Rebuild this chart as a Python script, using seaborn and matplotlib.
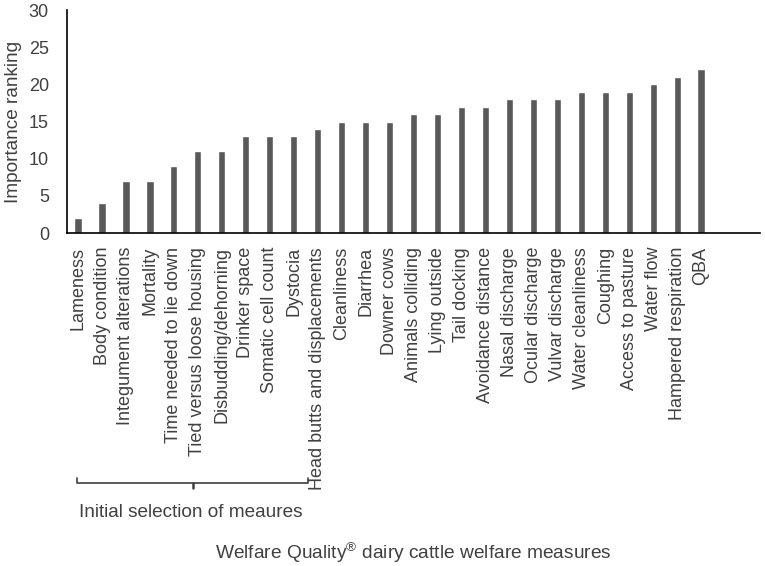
import pandas as pd
import matplotlib
matplotlib.use("Agg")
import matplotlib.pyplot as plt
import matplotlib.transforms as mtransforms
import seaborn as sns

# Datos
medidas = ["Lameness", "Body condition", "Integument alterations", "Mortality",
           "Time needed to lie down", "Tied versus loose housing",
           "Disbudding/dehorning", "Drinker space", "Somatic cell count",
           "Dystocia", "Head butts and displacements", "Cleanliness",
           "Diarrhea", "Downer cows", "Animals colliding", "Lying outside",
           "Tail docking", "Avoidance distance", "Nasal discharge",
           "Ocular discharge", "Vulvar discharge", "Water cleanliness",
           "Coughing", "Access to pasture", "Water flow",
           "Hampered respiration", "QBA"]
ranking = [2, 4, 7, 7, 9, 11, 11, 13, 13, 13, 14, 15, 15, 15, 16, 16,
           17, 17, 18, 18, 18, 19, 19, 19, 20, 21, 22]
y_ticks = [0, 5, 10, 15, 20, 25, 30]

df = pd.DataFrame({"medida": medidas, "ranking": ranking})

sns.set_style("white")
plt.rcParams["font.family"] = ["Liberation Sans", "DejaVu Sans"]
plt.rcParams["mathtext.fontset"] = "custom"
plt.rcParams["mathtext.rm"] = "Liberation Sans"
texto = "#404040"

fig, ax = plt.subplots(figsize=(7.65, 5.66), dpi=100)
fig.subplots_adjust(left=0.0876, right=0.9935, bottom=0.5883, top=0.9823)

sns.barplot(data=df, x="medida", y="ranking", color="#595959",
            width=0.3, saturation=1, ax=ax)

ax.set_xlim(-0.46, 28.46)
ax.set_ylim(0, 30)
ax.set_yticks(y_ticks)
ax.tick_params(axis="x", length=0, pad=10, labelsize=13, labelcolor=texto,
               labelrotation=90)
ax.tick_params(axis="y", length=0, pad=13, labelsize=13, labelcolor=texto)
for lab in ax.get_xticklabels():
    lab.set_ha("center")
    lab.set_va("top")

ax.set_xlabel("")
ax.set_ylabel("Importance ranking", fontsize=13.7, color=texto)
ax.yaxis.set_label_coords(-0.065, 0.5)

for lado in ["top", "right"]:
    ax.spines[lado].set_visible(False)
for lado in ["left", "bottom"]:
    ax.spines[lado].set_color("black")
    ax.spines[lado].set_linewidth(1.2)

# Llave bajo las medidas iniciales
trans = mtransforms.blended_transform_factory(ax.transData, ax.transAxes)
x0, x1, xc = -0.04, 9.6, 4.8
yb, ye, yt = -1.121, -1.099, -1.143
ax.plot([x0, x0, x1, x1], [ye, yb, yb, ye], color="#404040", lw=1.2,
        transform=trans, clip_on=False)
ax.plot([xc, xc], [yb, yt], color="#404040", lw=1.8,
        transform=trans, clip_on=False)
ax.text(4.7, -1.251, "Initial selection of meaures", transform=trans,
        ha="center", va="center", fontsize=13.7, color=texto)

fig.text(413 / 765, 1 - 553 / 566,
         r"Welfare Quality$^{\circledR}$ dairy cattle welfare measures",
         ha="center", va="center", fontsize=13.8, color=texto)

plt.savefig("out.png", dpi=100)
